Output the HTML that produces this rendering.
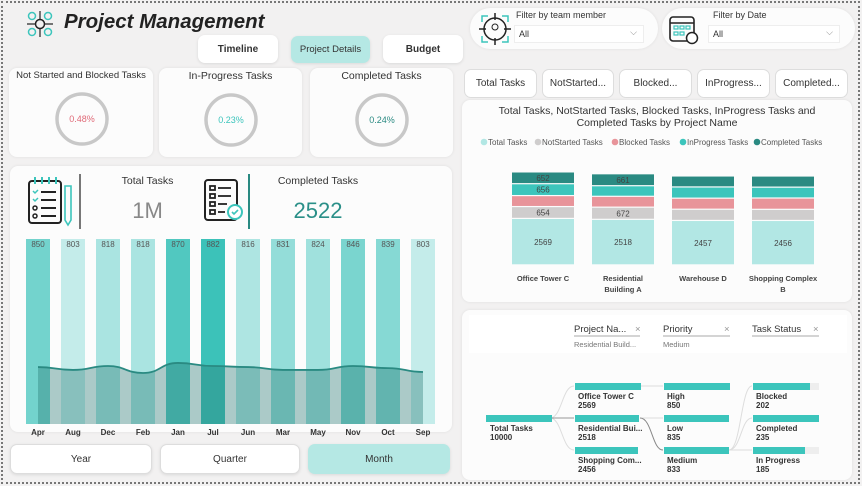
<!DOCTYPE html>
<html><head><meta charset="utf-8"><style>
*{box-sizing:border-box;margin:0;padding:0}
body{width:862px;height:486px;background:#f2f1f1;font-family:"Liberation Sans","DejaVu Sans",sans-serif;position:relative;overflow:hidden;color:#333}
.frame{position:absolute;left:1px;top:1px;width:859px;height:483px;border:2px dotted #777;pointer-events:none}
.card{position:absolute;background:#fcfcfc;border-radius:8px;box-shadow:0 0 3px rgba(0,0,0,.08)}
.btn{position:absolute;background:#fff;border-radius:7px;font-size:10px;font-weight:bold;display:flex;align-items:center;justify-content:center;box-shadow:0 1px 3px rgba(0,0,0,.1)}
.tab{position:absolute;top:69px;height:29px;background:#fff;border:1px solid #ddd;border-radius:7px;font-size:10px;display:flex;align-items:center;justify-content:center;color:#333}
.abs{position:absolute}
</style></head><body>
<div class="frame"></div>

<svg class="abs" style="left:27px;top:11px" width="26" height="26">
<circle cx="13" cy="13" r="4.5" fill="none" stroke="#222" stroke-width="1.5"/>
<g stroke="#222" stroke-width="1.2"><line x1="13" y1="0" x2="13" y2="8"/><line x1="13" y1="18" x2="13" y2="26"/><line x1="0" y1="13" x2="8" y2="13"/><line x1="18" y1="13" x2="26" y2="13"/></g>
<g fill="none" stroke="#3cc5bc" stroke-width="1.5"><circle cx="5" cy="5" r="3.5"/><circle cx="21" cy="5" r="3.5"/><circle cx="5" cy="21" r="3.5"/><circle cx="21" cy="21" r="3.5"/></g>
</svg>
<div class="abs" style="left:64px;top:10px;font-size:20.5px;font-weight:bold;font-style:italic;color:#222">Project Management</div>

<div class="btn" style="left:198px;top:35px;width:80px;height:28px">Timeline</div>
<div class="btn" style="left:291px;top:36px;width:79px;height:27px;background:#b5e8e4;font-weight:normal;font-size:9.5px">Project Details</div>
<div class="btn" style="left:383px;top:35px;width:80px;height:28px">Budget</div>

<div class="card" style="left:470px;top:8px;width:188px;height:41px;border-radius:21px">
 <svg class="abs" style="left:8px;top:4px" width="34" height="34"><circle cx="17" cy="17" r="11" fill="none" stroke="#222" stroke-width="1.5"/><g stroke="#222" stroke-width="1.5"><line x1="17" y1="1" x2="17" y2="8"/><line x1="17" y1="26" x2="17" y2="33"/><line x1="1" y1="17" x2="8" y2="17"/><line x1="26" y1="17" x2="33" y2="17"/></g><circle cx="17" cy="15" r="3" fill="none" stroke="#222"/><path d="M4 10V4h6M24 4h6v6M4 24v6h6M30 24v6h-6" fill="none" stroke="#3cc5bc" stroke-width="1.5"/></svg>
 <div class="abs" style="left:46px;top:2px;font-size:9px">Filter by team member</div>
 <div class="abs" style="left:44px;top:17px;width:130px;height:18px;background:#fff;border:1px solid #eee;font-size:9px;padding:3px 4px">All<span style="position:absolute;right:6px;top:1px;color:#888">⌵</span></div>
</div>
<div class="card" style="left:662px;top:8px;width:193px;height:41px;border-radius:21px">
 <svg class="abs" style="left:6px;top:4px" width="32" height="34"><rect x="2" y="5" width="24" height="24" rx="3" fill="none" stroke="#222" stroke-width="1.6"/><line x1="2" y1="11" x2="26" y2="11" stroke="#222" stroke-width="1.4"/><g fill="none" stroke="#3cc5bc" stroke-width="1.2"><rect x="6" y="14" width="4" height="3"/><rect x="12" y="14" width="4" height="3"/><rect x="18" y="14" width="4" height="3"/><rect x="6" y="20" width="4" height="3"/><rect x="12" y="20" width="4" height="3"/></g><circle cx="24" cy="26" r="5.5" fill="#fff" stroke="#222" stroke-width="1.5"/></svg>
 <div class="abs" style="left:51px;top:2px;font-size:9px">Filter by Date</div>
 <div class="abs" style="left:46px;top:17px;width:132px;height:18px;background:#fff;border:1px solid #eee;font-size:9px;padding:3px 4px">All<span style="position:absolute;right:6px;top:1px;color:#888">⌵</span></div>
</div>

<div class="tab" style="left:464px;width:73px">Total Tasks</div>
<div class="tab" style="left:542px;width:72px">NotStarted...</div>
<div class="tab" style="left:619px;width:73px">Blocked...</div>
<div class="tab" style="left:697px;width:73px">InProgress...</div>
<div class="tab" style="left:775px;width:73px">Completed...</div>

<div class="card" style="left:9px;top:68px;width:144px;height:89px">
 <div class="abs" style="left:0;width:144px;top:2px;text-align:center;font-size:9.5px">Not Started and Blocked Tasks</div>
 <svg class="abs" style="left:45px;top:23px" width="56" height="56"><circle cx="28" cy="28" r="25" fill="none" stroke="#c8c8c8" stroke-width="3.5"/><text x="28" y="31" text-anchor="middle" font-size="9" fill="#e06a78">0.48%</text></svg>
</div>
<div class="card" style="left:159px;top:68px;width:143px;height:89px">
 <div class="abs" style="left:0;width:143px;top:2px;text-align:center;font-size:10.5px">In-Progress Tasks</div>
 <svg class="abs" style="left:44px;top:24px" width="56" height="56"><circle cx="28" cy="28" r="25" fill="none" stroke="#c8c8c8" stroke-width="3.5"/><text x="28" y="31" text-anchor="middle" font-size="9" fill="#3cc5bc">0.23%</text></svg>
</div>
<div class="card" style="left:310px;top:68px;width:143px;height:89px">
 <div class="abs" style="left:0;width:143px;top:2px;text-align:center;font-size:10.5px">Completed Tasks</div>
 <svg class="abs" style="left:44px;top:24px" width="56" height="56"><circle cx="28" cy="28" r="25" fill="none" stroke="#c8c8c8" stroke-width="3.5"/><text x="28" y="31" text-anchor="middle" font-size="9" fill="#2a8a82">0.24%</text></svg>
</div>

<div class="card" style="left:10px;top:166px;width:442px;height:266px"></div>
<svg class="abs" style="left:26px;top:174px" width="50" height="55">
<rect x="3" y="7" width="32" height="42" rx="3" fill="none" stroke="#222" stroke-width="2"/>
<g stroke="#3cc5bc" stroke-width="2"><line x1="9" y1="3" x2="9" y2="10"/><line x1="16" y1="3" x2="16" y2="10"/><line x1="23" y1="3" x2="23" y2="10"/><line x1="30" y1="3" x2="30" y2="10"/></g>
<g stroke="#222" stroke-width="2"><line x1="15" y1="18" x2="30" y2="18"/><line x1="15" y1="26" x2="30" y2="26"/><line x1="15" y1="34" x2="30" y2="34"/><line x1="15" y1="42" x2="30" y2="42"/></g>
<path d="M7 17l2 2 3-3M7 25l2 2 3-3" stroke="#3cc5bc" fill="none" stroke-width="1.5"/>
<circle cx="9" cy="34" r="2" fill="none" stroke="#222" stroke-width="1.5"/><circle cx="9" cy="42" r="2" fill="none" stroke="#222" stroke-width="1.5"/>
<path d="M39 12h6v34l-3 5-3-5z" fill="none" stroke="#3cc5bc" stroke-width="1.6"/>
</svg>
<div class="abs" style="left:79px;top:174px;width:2px;height:55px;background:#777"></div>
<div class="abs" style="left:100px;top:175px;width:95px;text-align:center;font-size:10.5px">Total Tasks</div>
<div class="abs" style="left:100px;top:198px;width:95px;text-align:center;font-size:22px;color:#888">1M</div>
<svg class="abs" style="left:203px;top:178px" width="42" height="46">
<rect x="2" y="2" width="32" height="40" rx="3" fill="none" stroke="#222" stroke-width="2"/>
<g stroke="#222" stroke-width="1.8" fill="none"><rect x="7" y="8" width="5" height="4"/><rect x="7" y="16" width="5" height="4"/><rect x="7" y="24" width="5" height="4"/><rect x="7" y="32" width="5" height="4"/><line x1="15" y1="10" x2="28" y2="10"/><line x1="15" y1="18" x2="28" y2="18"/><line x1="15" y1="26" x2="24" y2="26"/><line x1="15" y1="34" x2="22" y2="34"/></g>
<circle cx="32" cy="34" r="7" fill="#fff" stroke="#3cc5bc" stroke-width="2"/><path d="M29 34l2 2 4-4" stroke="#3cc5bc" fill="none" stroke-width="1.6"/></svg>
<div class="abs" style="left:248px;top:174px;width:2px;height:55px;background:#2a8a82"></div>
<div class="abs" style="left:266px;top:175px;width:104px;text-align:center;font-size:10.5px">Completed Tasks</div>
<div class="abs" style="left:266px;top:198px;width:104px;text-align:center;font-size:22px;color:#2a8f88">2522</div>

<svg id="monthChart" class="abs" style="left:0;top:0" width="460" height="440"></svg>

<div class="btn" style="left:10px;top:444px;width:142px;height:30px;font-weight:normal;border:1px solid #ddd">Year</div>
<div class="btn" style="left:160px;top:444px;width:140px;height:30px;font-weight:normal;border:1px solid #ddd">Quarter</div>
<div class="btn" style="left:308px;top:444px;width:142px;height:30px;font-weight:normal;background:#b5e8e4">Month</div>

<div class="card" style="left:462px;top:100px;width:390px;height:202px"></div>
<svg id="stackChart" class="abs" style="left:462px;top:100px" width="390" height="202"></svg>

<div class="card" style="left:462px;top:310px;width:390px;height:170px">
 <div class="abs" style="left:7px;top:5px;width:378px;height:38px;background:#fff"></div>
</div>
<svg class="abs" style="left:462px;top:310px" width="390" height="176" font-family="Liberation Sans, sans-serif">
<g font-size="9.5" fill="#333">
<text x="112" y="22">Project Na...</text><text x="173" y="22" fill="#999">×</text>
<line x1="112" y1="26" x2="178" y2="26" stroke="#aaa"/>
<text x="201" y="22">Priority</text><text x="262" y="22" fill="#999">×</text>
<line x1="201" y1="26" x2="268" y2="26" stroke="#aaa"/>
<text x="290" y="22">Task Status</text><text x="351" y="22" fill="#999">×</text>
<line x1="290" y1="26" x2="357" y2="26" stroke="#aaa"/>
</g>
<g font-size="7.5" fill="#777"><text x="112" y="37">Residential Build...</text><text x="201" y="37">Medium</text></g>
<g fill="none" stroke="#ddd"><path d="M88 108C100 108 100 76 112 76"/><path d="M88 108C100 108 100 140 112 140"/><path d="M178 76C190 76 190 76 201 76"/><path d="M178 108H201"/><path d="M267 140C279 140 279 76 290 76"/><path d="M267 140C279 140 279 108 290 108"/><path d="M267 140H290"/></g>
<path d="M88 108H112" stroke="#999" fill="none"/><path d="M178 108C190 108 190 140 201 140" stroke="#888" fill="none"/>
<g fill="#3cc5bc">
<rect x="24" y="105" width="66" height="7"/>
<rect x="113" y="73" width="66" height="7"/>
<rect x="113" y="105" width="64" height="7"/>
<rect x="113" y="137" width="63" height="7"/>
<rect x="202" y="73" width="66" height="7"/>
<rect x="202" y="105" width="65" height="7"/>
<rect x="202" y="137" width="65" height="7"/>
<rect x="291" y="73" width="66" height="7" fill="#eee"/><rect x="291" y="73" width="57" height="7"/>
<rect x="291" y="105" width="66" height="7"/>
<rect x="291" y="137" width="66" height="7" fill="#eee"/><rect x="291" y="137" width="52" height="7"/>
</g>
<g font-size="8" font-weight="bold" fill="#333">
<text x="28" y="121">Total Tasks</text><text x="28" y="130">10000</text>
<text x="116" y="89">Office Tower C</text><text x="116" y="98">2569</text>
<text x="116" y="121">Residential Bui...</text><text x="116" y="130">2518</text>
<text x="116" y="153">Shopping Com...</text><text x="116" y="162">2456</text>
<text x="205" y="89">High</text><text x="205" y="98">850</text>
<text x="205" y="121">Low</text><text x="205" y="130">835</text>
<text x="205" y="153">Medium</text><text x="205" y="162">833</text>
<text x="294" y="89">Blocked</text><text x="294" y="98">202</text>
<text x="294" y="121">Completed</text><text x="294" y="130">235</text>
<text x="294" y="153">In Progress</text><text x="294" y="162">185</text>
</g>
</svg>

<script>
const months = ["Apr","Aug","Dec","Feb","Jan","Jul","Jun","Mar","May","Nov","Oct","Sep"];
const monthTotals = [850,803,818,818,870,882,816,831,824,846,839,803];
const monthCompleted = [277,263,282,248,297,282,277,263,263,282,272,253];

const projects = [["Office Tower C"],["Residential","Building A"],["Warehouse D"],["Shopping Complex","B"]];
const totalTasks = [2569,2518,2457,2456];
const notStarted = [654,672,620,615];
const blocked = [607,600,610,625];
const inProgress = [656,585,620,600];
const completed = [652,661,607,616];
const stackLabels = [[2569,654,null,656,652],[2518,672,null,null,661],[2457,null,null,null,null],[2456,null,null,null,null]];

const NS="http://www.w3.org/2000/svg";
function mk(parent,tag,attrs){const e=document.createElementNS(NS,tag);for(const k in attrs)e.setAttribute(k,attrs[k]);parent.appendChild(e);return e;}

(function(){
 const svg=document.getElementById('monthChart');
 const x0=38, step=35, base=424, top=239, bw=24;
 const xPos=i=>x0+i*step;
 const yArea=v=>base-(v/900)*(base-top);
 const mn=Math.min(...monthTotals), mx=Math.max(...monthTotals);
 const c1=[196,236,234], c2=[60,194,185];
 monthTotals.forEach((v,i)=>{
  const t=(v-mn)/((mx-mn)||1);
  const c=c1.map((a,j)=>Math.round(a+(c2[j]-a)*t));
  const r=mk(svg,'rect',{x:xPos(i)-bw/2,y:top,width:bw,height:base-top,fill:`rgb(${c})`});
  
  
  const tx=mk(svg,'text',{x:xPos(i),y:top+8,'text-anchor':'middle','font-size':'8',fill:'#555'});
  tx.textContent=v;
  
  
  const ml=mk(svg,'text',{x:xPos(i),y:base+11,'text-anchor':'middle','font-size':'8','font-weight':'bold',fill:'#333'});
  ml.textContent=months[i];
  
  
 });
 const pts=monthCompleted.map((v,i)=>[xPos(i),yArea(v)]);
 let d='M'+pts[0][0]+' '+pts[0][1];
 for(let i=1;i<pts.length;i++){const p=pts[i-1],q=pts[i],mxp=(p[0]+q[0])/2;d+=` C${mxp} ${p[1]} ${mxp} ${q[1]} ${q[0]} ${q[1]}`;}
 const area=mk(svg,'path',{d:d+` L${pts[pts.length-1][0]} ${base} L${pts[0][0]} ${base} Z`,fill:'rgba(40,120,115,0.38)'});
 
 
 const line=mk(svg,'path',{d:d,fill:'none',stroke:'#2a8a82','stroke-width':'1.8'});
 
 
})();

(function(){
 const svg=document.getElementById('stackChart');
 const t1=mk(svg,'text',{x:195,y:14,'text-anchor':'middle','font-size':'10.5',fill:'#333'});
 t1.textContent='Total Tasks, NotStarted Tasks, Blocked Tasks, InProgress Tasks and';
 
 
 const t2=mk(svg,'text',{x:195,y:26,'text-anchor':'middle','font-size':'10.5',fill:'#333'});
 t2.textContent='Completed Tasks by Project Name';
 
 
 const names=['Total Tasks','NotStarted Tasks','Blocked Tasks','InProgress Tasks','Completed Tasks'];
 const cols=['#b2e7e4','#cfcdcd','#e8949a','#3cc5bc','#2a8a82'];
 const lx=[22,76,153,221,295];
 names.forEach((n,i)=>{
  const c=mk(svg,'circle',{cx:lx[i],cy:42,r:3.3,fill:cols[i]});
  
  
  const t=mk(svg,'text',{x:lx[i]+4,y:45,'font-size':'8',fill:'#555'});
  t.textContent=n;
  
  
 });
 const series=[totalTasks,notStarted,blocked,inProgress,completed];
 const base=165, k=93/5138, bw=62, cx=i=>81+i*80;
 projects.forEach((p,i)=>{
  let y=base;
  series.forEach((s,j)=>{
   const h=s[i]*k;
   const r=mk(svg,'rect',{x:cx(i)-bw/2,y:y-h+0.5,width:bw,height:Math.max(h-1.2,0),fill:cols[j]});
   
   
   const lab=stackLabels[i][j];
   if(lab!==null){
    const t=mk(svg,'text',{x:cx(i),y:y-h/2+3,'text-anchor':'middle','font-size':'8',fill:'#444'});
    t.textContent=s[i];
    
    
   }
   y-=h;
  });
  p.forEach((ln,li)=>{
   const t=mk(svg,'text',{x:cx(i),y:181+li*11,'text-anchor':'middle','font-size':'7.5','font-weight':'bold',fill:'#444'});
   t.textContent=ln;
   
   
  });
 });
})();
</script>
</body></html>
